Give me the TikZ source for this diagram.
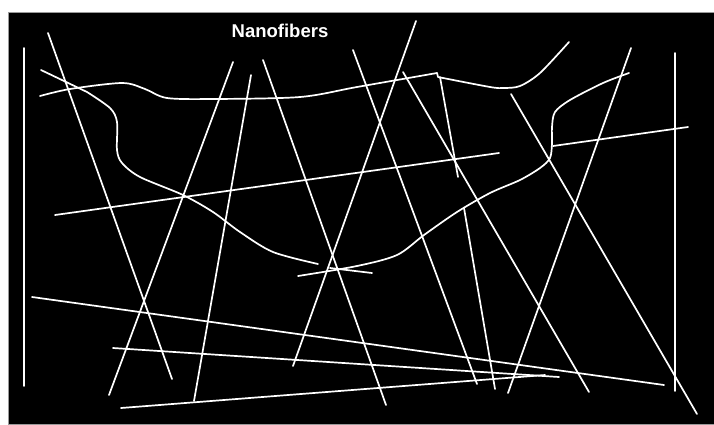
\documentclass[tikz,border=0pt]{standalone}
\usepackage{fontspec}
\setsansfont{Liberation Sans}
\usepackage{tikz}
\usetikzlibrary{calc}
\definecolor{matgrey}{HTML}{9A9A9A}

\tikzset{
  fiber/.style={white, line width=1.7pt, line cap=round, line join=round},
}

\begin{document}
\begin{tikzpicture}[x=1pt, y=-1pt]
  \useasboundingbox (0,0) rectangle (714,424);
  \fill[white] (0,0) rectangle (714,424);
  \draw[matgrey, line width=0.5pt, fill=black] (8,12) rectangle (714,424);
  % straight fibres
  \foreach \xa/\ya/\xb/\yb in {24/48/24/386, 48/33/172/379, 233/62/109/395,
      251/75/194/401, 263/60/386/405, 353/50/477/384, 416/21/293/366,
      403/72/589/392, 511/94/697/414, 631/48/508/393, 675/53/675/391,
      553/146/688/127, 55/215/499/153, 32/297/664/385, 113/348/559/377,
      121/408/545/375, 440/77/458/177, 464/208/495/389, 330/268/372/273}
    \draw[fiber] (\xa,\ya) -- (\xb,\yb);
  % curled fibres
  \draw[fiber] (41,70) -- (87,92) plot[smooth] coordinates {(87,92) (110,108)
      (117,122) (117,150) (122,163) (140,177) (183,195) (213,212) (240,232)
      (273,252) (318,264)};
  \draw[fiber] plot[smooth] coordinates {(40,96) (70,89) (122,83)
      (145,89) (167,98) (213,99) (300,97) (357,87) (437,73)};
  \draw[fiber] (437,73) -- (438,77) plot[smooth] coordinates {(438,77)
      (490,87) (504,88) (520,86) (540,73) (569,42)};
  \draw[fiber] plot[smooth] coordinates {(629,73) (603,83) (570,100)
      (555,112) (552,127) (552,143) (550,158) (540,168) (520,180) (490,193)
      (457,212) (424,235) (397,255) (357,266) (298,276)};
  \node[anchor=base, text=white, font=\sffamily\bfseries\fontsize{18.5}{21}\selectfont,
    inner sep=0pt] (title) at (280,37) {Nanofibers};
\end{tikzpicture}
\end{document}
